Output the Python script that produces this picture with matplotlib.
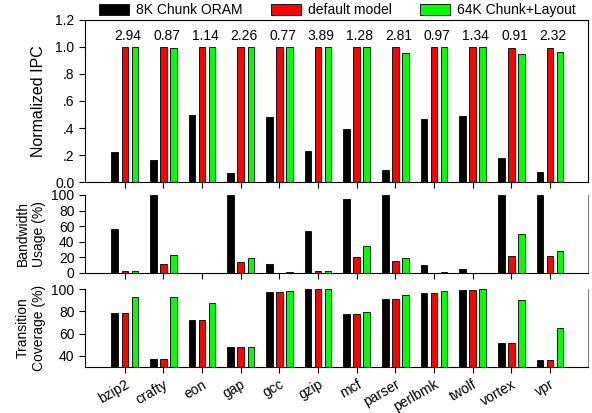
import numpy as np
import matplotlib.pyplot as plt
from matplotlib.patches import Patch

plt.rcParams['font.family'] = ['Liberation Sans', 'DejaVu Sans']

# data
benchmarks = ['bzip2', 'crafty', 'eon', 'gap', 'gcc', 'gzip', 'mcf',
              'parser', 'perlbmk', 'twolf', 'vortex', 'vpr']
series = ['8K Chunk ORAM', 'default model', '64K Chunk+Layout']
colors = ['#000000', '#ff0000', '#00ff00']

ipc_8k = [0.22, 0.16, 0.50, 0.067, 0.48, 0.23, 0.39, 0.09, 0.47, 0.49, 0.18, 0.074]
ipc_default = [1.0, 1.0, 1.0, 1.0, 1.0, 1.0, 1.0, 1.0, 1.0, 1.0, 0.99, 0.99]
ipc_64k = [1.0, 0.99, 1.0, 1.0, 1.0, 1.0, 1.0, 0.955, 1.0, 1.0, 0.945, 0.96]
speedup_labels = ['2.94', '0.87', '1.14', '2.26', '0.77', '3.89', '1.28',
                  '2.81', '0.97', '1.34', '0.91', '2.32']

bw_8k = [56, 100, 0, 100, 11, 54, 95, 100, 10, 4.7, 100, 100]
bw_default = [2, 11.5, 0, 13.7, 0.5, 2, 20, 15.4, 0.3, 0.2, 21.8, 21.4]
bw_64k = [3, 22.6, 0, 19.6, 1, 2, 34, 19.6, 1, 0.2, 50, 28.6]

cov_8k = [78.5, 37.3, 71.9, 47.5, 97, 100, 77.6, 90.6, 96.1, 99.4, 51.4, 36.7]
cov_default = [78.5, 37.3, 72, 47.5, 97, 99.7, 77.6, 90.6, 96.1, 99.4, 51.4, 36.7]
cov_64k = [92.4, 92.4, 87.2, 47.5, 98.5, 100, 79.7, 94.2, 98.5, 100, 89.7, 64.6]

x = np.arange(len(benchmarks))
width = 0.17
offsets = [-0.26, 0, 0.26]

fig = plt.figure(figsize=(5.92, 4.13), dpi=100)
left, w = 0.1436, 0.8494
ax1 = fig.add_axes([left, 0.5593, w, 0.3923])
ax2 = fig.add_axes([left, 0.339, w, 0.1889])
ax3 = fig.add_axes([left, 0.1114, w, 0.1888])

panels = [
    (ax1, [ipc_8k, ipc_default, ipc_64k]),
    (ax2, [bw_8k, bw_default, bw_64k]),
    (ax3, [cov_8k, cov_default, cov_64k]),
]
for ax, vals in panels:
    for v, c, off in zip(vals, colors, offsets):
        ax.bar(x + off, v, width, color=c, edgecolor='black', linewidth=0.6)
    ax.set_xlim(-1.03, 11.98)
    ax.set_xticks(x)
    ax.tick_params(axis='both', direction='out', length=4, width=0.8,
                   labelsize=10)

# top panel
ax1.set_ylim(0, 1.2)
ax1.set_yticks([0, 0.2, 0.4, 0.6, 0.8, 1.0, 1.2])
ax1.set_yticklabels(['0.0', '.2', '.4', '.6', '.8', '1.0', '1.2'])
ax1.set_xticklabels([])
ax1.set_ylabel('Normalized IPC', fontsize=11.5)
for xi, lab in zip(x, speedup_labels):
    ax1.text(xi + 0.08, 1.08, lab, ha='center', va='center', fontsize=10)

# middle panel
ax2.set_ylim(0, 100)
ax2.set_yticks([0, 20, 40, 60, 80, 100])
ax2.set_xticklabels([])
ax2.set_ylabel('Bandwidth\nUsage (%)', fontsize=10)
ax2.spines['top'].set_visible(False)
ax2.spines['right'].set_color('gray')

# bottom panel
ax3.set_ylim(30, 100)
ax3.set_yticks([40, 60, 80, 100])
ax3.set_xticklabels(benchmarks, rotation=30, ha='right',
                    rotation_mode='anchor', fontsize=10)
ax3.set_ylabel('Transition\nCoverage (%)', fontsize=10)
ax3.spines['top'].set_visible(False)
ax3.spines['right'].set_color('gray')

for ax in (ax1, ax2, ax3):
    ax.yaxis.set_label_coords(-0.078, 0.5)

handles = [Patch(facecolor=c, edgecolor='black', linewidth=0.6) for c in colors]
fig.legend(handles, series, loc='center', bbox_to_anchor=(0.57, 0.975),
           ncol=3, frameon=False, fontsize=10, handlelength=2.2,
           handleheight=0.8, columnspacing=2.0, handletextpad=0.5,
           borderpad=0.2)

plt.savefig('out.png', dpi=100)
